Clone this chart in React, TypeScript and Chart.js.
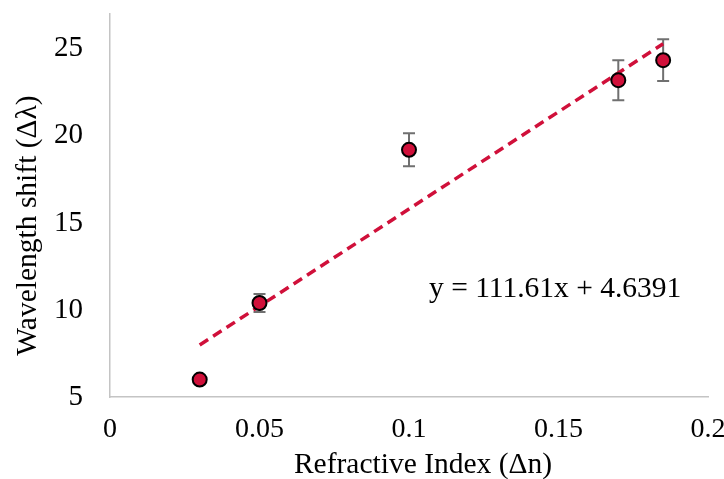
import React, { useEffect, useRef } from 'react';
import { Chart, registerables } from 'chart.js';

Chart.register(...registerables);

// ---- data ----
const xValues = [0.03, 0.05, 0.1, 0.17, 0.185];
const yValues = [6.0, 10.4, 19.2, 23.2, 24.35];
const yErrors = [0, 0.52, 0.95, 1.15, 1.2];
const xTicks = [0, 0.05, 0.1, 0.15, 0.2];
const yTicks = [5, 10, 15, 20, 25];
const trendSlope = 111.61;
const trendIntercept = 4.6391;
const trendRange = [0.03, 0.185];
const equationText = 'y = 111.61x + 4.6391';
const equationAt = { x: 0.1067, y: 10.76 };
const xTitle = 'Refractive Index (\u0394n)';
const yTitle = 'Wavelength shift (\u0394\u03bb)';

const FONT = '"Liberation Serif", "Times New Roman", serif';
const RED = '#d0103a';

export default function App() {
  const ref = useRef<HTMLCanvasElement | null>(null);

  useEffect(() => {
    const canvas = ref.current;
    if (!canvas) return;

    const errorBars = {
      id: 'errorBars',
      beforeDatasetsDraw(chart: any) {
        const { ctx, scales } = chart;
        ctx.save();
        ctx.strokeStyle = '#707070';
        ctx.lineWidth = 2;
        xValues.forEach((xv, i) => {
          const e = yErrors[i];
          if (!e) return;
          const px = scales.x.getPixelForValue(xv);
          const top = scales.y.getPixelForValue(yValues[i] + e);
          const bot = scales.y.getPixelForValue(yValues[i] - e);
          ctx.beginPath();
          ctx.moveTo(px, top);
          ctx.lineTo(px, bot);
          ctx.moveTo(px - 6, top);
          ctx.lineTo(px + 6, top);
          ctx.moveTo(px - 6, bot);
          ctx.lineTo(px + 6, bot);
          ctx.stroke();
        });
        ctx.restore();
      },
    };

    const texts = {
      id: 'texts',
      afterDraw(chart: any) {
        const { ctx, scales, chartArea } = chart;
        ctx.save();
        ctx.fillStyle = '#000';
        ctx.font = `29.5px ${FONT}`;
        ctx.textBaseline = 'alphabetic';
        ctx.textAlign = 'left';
        ctx.fillText(
          equationText,
          scales.x.getPixelForValue(equationAt.x),
          scales.y.getPixelForValue(equationAt.y)
        );
        ctx.textAlign = 'center';
        ctx.fillText(xTitle, (chartArea.left + chartArea.right) / 2 + 14, 473);
        ctx.translate(36, (chartArea.top + chartArea.bottom) / 2 + 20);
        ctx.rotate(-Math.PI / 2);
        ctx.fillText(yTitle, 0, 0);
        ctx.restore();
      },
    };

    const zeroPad = (s: any) => {
      s.paddingTop = 0;
      s.paddingBottom = 0;
      s.paddingLeft = 0;
      s.paddingRight = 0;
    };

    const chart = new Chart(canvas, {
      type: 'scatter',
      data: {
        datasets: [
          {
            label: 'data',
            data: xValues.map((x, i) => ({ x, y: yValues[i] })),
            backgroundColor: RED,
            borderColor: '#000',
            borderWidth: 2,
            pointRadius: 7,
            pointHoverRadius: 7,
            order: 0,
          },
          {
            type: 'line',
            label: 'trend',
            data: trendRange.map((x) => ({ x, y: trendSlope * x + trendIntercept })),
            borderColor: RED,
            borderWidth: 3.5,
            borderDash: [10, 6],
            pointRadius: 0,
            fill: false,
            order: 1,
          } as any,
        ],
      },
      options: {
        responsive: false,
        animation: false,
        devicePixelRatio: 1,
        layout: { padding: { top: 14, right: 16, left: 0, bottom: 0 } },
        plugins: { legend: { display: false }, tooltip: { enabled: false } },
        scales: {
          x: {
            type: 'linear',
            min: 0,
            max: 0.2,
            afterBuildTicks: (s: any) => {
              s.ticks = xTicks.map((v) => ({ value: v }));
            },
            afterFit: (s: any) => {
              s.height = 82;
              zeroPad(s);
            },
            grid: { display: false, drawTicks: false },
            border: { display: true, color: '#c4c4c4', width: 1.5 },
            ticks: {
              padding: 16,
              color: '#000',
              font: { family: FONT, size: 28 },
              callback: (v: any) => String(v),
              maxRotation: 0,
              autoSkip: false,
            },
            title: { display: false },
          },
          y: {
            type: 'linear',
            min: 5,
            max: 27,
            afterBuildTicks: (s: any) => {
              s.ticks = yTicks.map((v) => ({ value: v }));
            },
            afterFit: (s: any) => {
              s.width = 110;
              zeroPad(s);
            },
            grid: { display: false, drawTicks: false },
            border: { display: true, color: '#c4c4c4', width: 1.5 },
            ticks: {
              padding: 27,
              color: '#000',
              font: { family: FONT, size: 29 },
              callback: (v: any) => String(v),
              autoSkip: false,
            },
            title: { display: false },
          },
        },
      },
      plugins: [errorBars, texts],
    });

    return () => chart.destroy();
  }, []);

  return (
    <div style={{ position: 'fixed', left: 0, top: 0, width: 724, height: 479, background: '#fff' }}>
      <canvas ref={ref} width={724} height={479} style={{ width: 724, height: 479 }} />
    </div>
  );
}
